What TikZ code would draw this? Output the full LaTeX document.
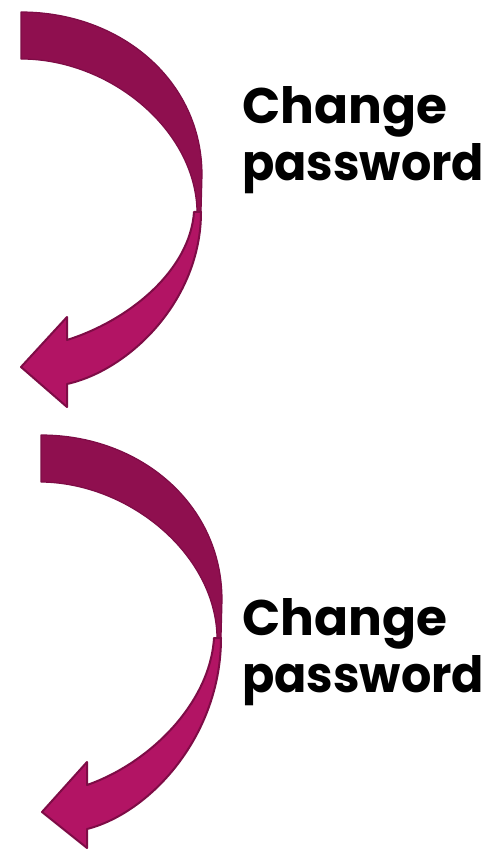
\documentclass[tikz,border=0pt]{standalone}
\usepackage{fontspec}
\setmainfont{Poppins}
\definecolor{bandDark}{HTML}{8F0F4F}
\definecolor{bandBright}{HTML}{B21464}
\definecolor{bandLine}{HTML}{7E0C46}
\begin{document}
\begin{tikzpicture}[x=1pt,y=-1pt,
  backband/.style={fill=bandDark,draw=bandLine,line width=1.2pt,line join=round},
  frontband/.style={fill=bandBright,draw=bandLine,line width=2pt,line join=round},
  label/.style={anchor=base west,inner sep=0pt,font=\fontsize{50}{57}\selectfont\bfseries}]
\useasboundingbox (0,0) rectangle (494,850);
% ---- arrow 1
\path[backband] (21,12) .. controls (120,12) and (202,80) .. (202,175) -- (201,212)
  -- (197,212) .. controls (196,130) and (110,59) .. (21,59) -- cycle;
\path[frontband] (201,212) .. controls (201,300) and (130,370) .. (67,384)
  -- (67,407) -- (21,367) -- (67,317) -- (67,340)
  .. controls (130,320) and (190,270) .. (194,212) -- cycle;
% ---- arrow 2
\path[backband] (41,435) .. controls (140,435) and (222,504) .. (222,600) -- (221,638)
  -- (217,638) .. controls (216,555) and (130,483) .. (41,482) -- cycle;
\path[frontband] (221,638) .. controls (221,736) and (150,813) .. (87,829)
  -- (87,848) -- (42,812) -- (87,762) -- (87,785)
  .. controls (150,763) and (210,703) .. (214,638) -- cycle;
% ---- labels
\node[label] (t1a) at (242,124) {\resizebox{205pt}{\height}{Change}};
\node[label] (t1b) at (242,181) {\resizebox{242pt}{\height}{password}};
\node[label] (t2a) at (242,635) {\resizebox{205pt}{\height}{Change}};
\node[label] (t2b) at (242,692) {\resizebox{242pt}{\height}{password}};
\end{tikzpicture}
\end{document}
